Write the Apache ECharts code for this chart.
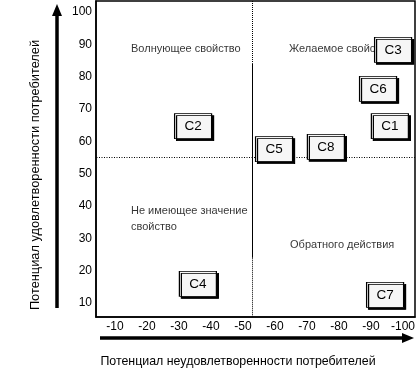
<!DOCTYPE html>
<html>
<head>
<meta charset="utf-8">
<script src="https://cdn.jsdelivr.net/npm/echarts@6/dist/echarts.min.js"></script>
<style>html,body{margin:0;padding:0;background:#fff;}#c{width:417px;height:371px;}</style>
</head>
<body>
<div id="c"></div>
<script>
// Data
var names = ['C1','C2','C3','C4','C5','C6','C7','C8'];
var dissatisfaction = [-95.9,-34.4,-96.9,-35.9,-59.7,-92.2,-94.4,-75.9];
var satisfaction = [64.7,64.7,88.3,15.9,57.6,76.2,12.5,58.3];
var xTicks = [-10,-20,-30,-40,-50,-60,-70,-80,-90,-100];
var yTicks = [10,20,30,40,50,60,70,80,90,100];
var quadrantTexts = ['Волнующее свойство','Желаемое свойство','Не имеющее значение\nсвойство','Обратного действия'];
var quadrantX = [-15,-64.4,-15,-64.7];
var quadrantY = [88.6,88.6,36,27.9];
var splitX = -53;
var splitY = 55;

var font = 'Liberation Sans, Arial, sans-serif';
var chart = echarts.init(document.getElementById('c'), null, {renderer:'canvas'});

var boxData = names.map(function(n,i){ return {name:n, value:[dissatisfaction[i], satisfaction[i]]}; });
var qData = quadrantTexts.map(function(t,i){ return {name:t, value:[quadrantX[i], quadrantY[i]]}; });

chart.setOption({
  animation:false,
  backgroundColor:'#fff',
  grid:{left:96,right:2,top:1,bottom:54,outerBoundsMode:'none',containLabel:false,show:true,borderColor:'#000',borderWidth:1.5,backgroundColor:'transparent'},
  xAxis:{
    type:'value', inverse:true, min:-103.75, max:-4.06,
    axisLine:{show:true,lineStyle:{color:'#000',width:1.5}},
    axisTick:{show:false}, splitLine:{show:false},
    axisLabel:{customValues:xTicks, color:'#000', fontFamily:font, fontSize:12, margin:4, hideOverlap:false}
  },
  yAxis:{
    type:'value', min:5.67, max:103.4,
    axisLine:{show:true,lineStyle:{color:'#000',width:1.5}},
    axisTick:{show:false}, splitLine:{show:false},
    axisLabel:{customValues:yTicks, color:'#000', fontFamily:font, fontSize:12, margin:4}
  },
  graphic:[
    {type:'line', shape:{x1:57,y1:308,x2:57,y2:14}, style:{stroke:'#000',lineWidth:3.5}},
    {type:'polygon', shape:{points:[[57,4],[52,16],[62,16]]}, style:{fill:'#000'}},
    {type:'line', shape:{x1:100,y1:338,x2:404,y2:338}, style:{stroke:'#000',lineWidth:3.5}},
    {type:'polygon', shape:{points:[[414,338],[402,333],[402,343]]}, style:{fill:'#000'}},
    {type:'text', x:35, y:175, rotation:Math.PI/2, style:{text:'Потенциал удовлетворенности потребителей', fill:'#000', font:'12.8px '+font, align:'center', verticalAlign:'middle'}},
    {type:'text', x:238, y:362, style:{text:'Потенциал неудовлетворенности потребителей', fill:'#000', font:'12.4px '+font, align:'center', verticalAlign:'middle'}}
  ],
  series:[
    {
      type:'scatter', data:qData, symbolSize:0, silent:true, z:1,
      label:{show:true, position:'right', distance:0, formatter:function(p){return p.name;}, color:'#000', fontFamily:font, fontSize:11, lineHeight:16, align:'left'},
      markLine:{
        symbol:'none', silent:true, label:{show:false},
        data:[
          [{coord:[-103.75, splitY], lineStyle:{type:[1,1.5],color:'#000',width:1}}, {coord:[-4.06, splitY]}],
          [{coord:[splitX, 103.4], lineStyle:{type:[1,1],color:'#000',width:1}}, {coord:[splitX, 84]}],
          [{coord:[splitX, 84], lineStyle:{type:'solid',color:'#000',width:1}}, {coord:[splitX, 24]}],
          [{coord:[splitX, 24], lineStyle:{type:[1,1],color:'#000',width:1}}, {coord:[splitX, 5.67]}]
        ]
      }
    },
    {
      type:'scatter', data:boxData, symbol:'rect', symbolSize:[37,25], z:5,
      itemStyle:{color:'#f6f6f6', borderColor:'#000', borderWidth:1, shadowColor:'#000', shadowBlur:0.01, shadowOffsetX:2, shadowOffsetY:2, opacity:1},
      label:{show:true, position:'inside', formatter:function(p){return p.name;}, color:'#000', fontFamily:font, fontSize:13.5}
    }
  ]
});
</script>
</body>
</html>
